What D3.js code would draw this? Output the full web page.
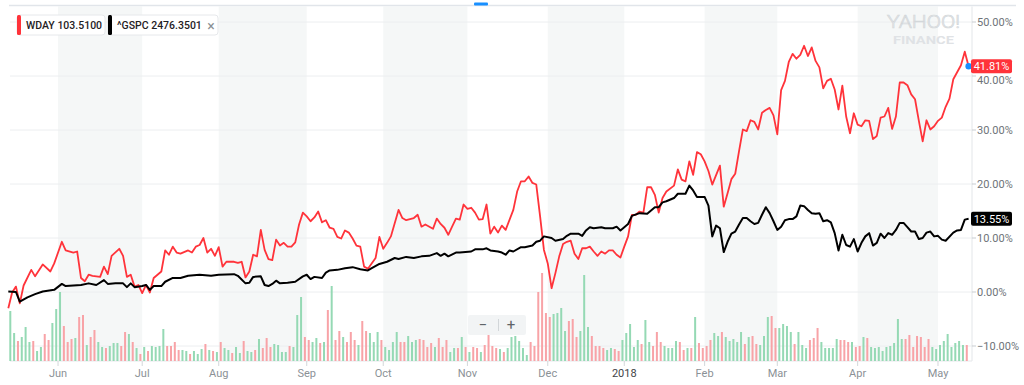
<!DOCTYPE html>
<html>
<head>
<meta charset="utf-8">
<script src="https://cdn.jsdelivr.net/npm/d3@7"></script>
<style>
  html, body { margin: 0; padding: 0; background: #fff; }
  svg { display: block; font-family: Roboto, "Helvetica Neue", Arial, sans-serif; }
</style>
</head>
<body>
<div id="chart"></div>
<script>
// x = trading day index (0 = mid May 2017), value = % change since start
const wday = [
  [0,-3.0],[1,-0.1],[2,1.0],[3,-2.1],[4,1.2],[6,4.1],[7,2.9],[9,5.1],[11,3.8],[12,5.3],
  [14,9.3],[15,7.7],[17,7.3],[18,7.5],[19,2.6],[20,2.0],[21,3.2],[22,3.0],[24,2.8],[25,4.7],
  [26,3.3],[27,6.7],[29,8.0],[30,6.7],[31,2.8],[32,3.2],[33,1.0],[34,1.3],[35,-0.2],[36,1.3],
  [37,-0.1],[38,2.6],[40,3.8],[41,7.7],[42,6.9],[43,8.4],[44,7.3],[45,7.1],[47,7.7],[48,7.3],
  [49,8.4],[50,8.7],[51,10.0],[52,7.3],[53,8.0],[54,6.7],[55,8.3],[56,4.7],[57,5.6],[59,5.6],
  [60,5.4],[61,5.6],[62,2.7],[63,3.8],[64,6.9],[65,6.6],[66,11.5],[67,7.8],[68,6.1],[69,5.9],
  [70,9.7],[71,8.6],[72,9.1],[73,8.4],[74,8.4],[75,9.2],[76,12.5],[77,14.7],[78,14.0],[79,13.1],
  [80,13.8],[81,14.9],[82,12.9],[83,13.3],[84,11.9],[85,11.7],[86,10.2],[87,9.9],[88,11.4],[89,11.0],
  [90,9.9],[91,8.6],[92,8.4],[93,4.7],[94,4.3],[96,6.3],[97,10.2],[98,8.0],[99,9.1],[100,10.3],
  [102,15.2],[103,13.7],[104,13.3],[106,13.7],[107,14.3],[108,12.1],[109,12.5],[111,11.7],[112,13.6],[113,12.6],
  [114,11.9],[115,10.6],[116,12.1],[117,13.6],[118,13.4],[119,16.2],[120,15.4],[121,15.6],[122,14.7],[123,13.4],
  [124,13.5],[125,16.2],[126,10.8],[127,12.1],[128,11.0],[129,12.3],[130,11.5],[132,15.2],[133,18.6],[134,20.5],
  [135,20.5],[136,21.4],[137,20.2],[138,19.9],[139,14.0],[140,7.8],[141,5.3],[142,0.7],[143,3.5],[144,6.6],
  [145,8.9],[146,9.3],[147,9.5],[148,7.1],[149,6.1],[150,8.1],[151,8.1],[152,8.4],[153,7.5],[154,6.7],
  [155,7.5],[156,7.1],[157,7.7],[158,7.7],[159,6.9],[160,6.4],[161,8.4],[162,10.3],[163,14.3],[164,14.3],
  [165,14.9],[166,14.7],[167,19.4],[168,19.4],[169,18.0],[170,14.7],[171,17.4],[172,18.6],[174,19.7],[175,22.7],
  [176,20.8],[177,20.5],[178,24.2],[179,21.7],[180,25.9],[181,25.5],[182,24.2],[183,22.4],[184,19.9],[186,23.4],
  [187,15.8],[188,18.3],[189,20.9],[190,21.9],[191,26.1],[192,30.1],[193,29.8],[194,31.8],[195,31.5],[196,30.1],
  [197,33.2],[198,33.7],[199,34.1],[200,32.7],[201,29.2],[202,37.4],[203,39.1],[204,42.6],[205,44.1],[206,43.2],
  [207,43.9],[208,45.6],[209,43.7],[210,45.3],[211,42.8],[212,41.6],[213,37.7],[214,39.1],[215,39.5],[216,37.5],
  [217,33.8],[218,38.2],[219,32.5],[220,29.4],[221,33.1],[222,31.0],[223,30.7],[224,31.8],[225,31.7],[226,28.3],
  [227,28.9],[228,32.3],[229,32.5],[230,34.1],[231,30.2],[232,32.5],[233,38.8],[234,38.8],[235,38.3],[236,36.6],
  [237,35.7],[238,31.7],[239,27.9],[240,31.8],[241,30.1],[242,30.7],[243,31.7],[244,32.3],[245,34.3],[246,35.8],
  [247,39.4],[249,42.0],[250,44.5],[251,41.81]
]

const gspc = [
  [0,0.1],[2,0.0],[3,-1.8],[5,-1.0],[7,-0.4],[9,0.1],[12,0.4],[14,1.5],[15,1.1],[19,1.3],
  [21,1.6],[23,1.3],[25,2.2],[26,1.5],[28,1.6],[30,1.6],[31,0.9],[32,1.6],[33,0.9],[35,1.1],
  [36,1.3],[37,0.4],[38,1.1],[40,1.1],[41,1.9],[43,2.6],[45,2.6],[47,3.0],[50,3.2],[53,3.0],
  [55,3.2],[59,3.3],[60,3.0],[62,1.6],[63,1.7],[64,2.8],[66,2.9],[67,1.3],[68,1.1],[69,1.5],
  [70,2.1],[71,1.6],[73,1.7],[75,1.9],[77,2.9],[78,3.2],[79,2.4],[80,2.8],[82,2.6],[83,3.6],
  [84,4.0],[86,4.1],[88,4.4],[90,4.6],[92,4.2],[94,4.0],[95,4.4],[97,5.2],[99,5.6],[101,6.3],
  [102,6.1],[104,6.5],[106,6.3],[108,6.6],[110,6.7],[112,7.2],[113,6.7],[114,7.1],[115,6.6],[117,7.3],
  [118,7.3],[121,7.5],[122,7.9],[124,7.9],[125,8.1],[126,7.7],[128,7.5],[129,7.3],[130,6.9],[131,7.7],
  [132,7.5],[134,8.3],[135,8.3],[137,8.6],[138,9.3],[139,9.5],[140,10.3],[142,10.0],[143,9.5],[145,9.8],
  [146,10.4],[147,10.8],[149,10.8],[150,10.4],[151,11.4],[152,12.0],[153,11.8],[155,12.0],[156,11.8],[158,11.8],
  [159,12.1],[160,11.4],[162,12.6],[163,14.1],[165,14.6],[167,14.5],[169,15.7],[170,15.7],[171,16.6],[172,16.8],
  [174,17.4],[175,18.2],[177,18.2],[178,19.7],[179,18.8],[180,17.6],[182,17.6],[183,16.0],[184,10.3],[185,12.3],
  [186,11.8],[187,7.4],[188,9.3],[189,10.8],[190,11.2],[191,12.5],[192,13.7],[193,13.7],[194,13.1],[195,12.6],
  [196,12.8],[197,14.3],[198,15.7],[199,14.6],[200,13.1],[201,11.5],[202,12.1],[203,13.3],[204,13.5],[205,13.5],
  [206,14.0],[207,16.0],[208,15.9],[209,15.2],[210,14.6],[211,14.5],[212,14.6],[213,13.1],[214,13.3],[215,12.9],
  [216,10.9],[217,7.7],[218,10.6],[219,8.7],[220,8.4],[221,9.8],[222,7.5],[223,9.1],[224,10.3],[225,10.9],
  [226,8.6],[227,9.1],[228,10.8],[229,10.0],[230,10.9],[231,10.6],[232,11.5],[233,12.8],[234,12.8],[235,12.0],
  [236,11.2],[237,11.2],[238,9.8],[239,10.0],[240,11.0],[241,11.2],[242,10.3],[243,10.4],[244,9.7],[245,9.5],
  [247,11.0],[248,11.4],[249,11.5],[250,13.4],[251,13.55]
]

// WDAY daily volume (millions), one per trading day from index 0
const volume = [
  5.0,2.8,2.0,2.4,3.4,1.9,2.0,1.0,1.4,2.7, 2.1,3.8,5.2,6.9,3.5,1.9,2.2,2.3,4.4,4.6,
  1.6,2.4,3.1,1.9,1.4,1.3,1.5,1.8,1.8,1.5, 2.9,2.7,1.9,1.3,0.7,1.4,1.0,1.5,1.4,1.5,
  3.2,1.5,1.5,1.9,1.1,1.1,1.0,0.7,1.0,0.7, 1.2,1.7,1.1,1.0,0.9,1.9,1.3,1.1,0.8,1.4,
  0.8,2.0,1.0,0.9,1.1,2.2,1.3,2.3,1.4,1.7, 1.6,0.9,0.9,1.5,1.4,4.6,6.4,2.4,2.1,1.9,
  2.3,1.8,1.9,5.1,7.5,2.1,3.0,2.4,1.9,2.9, 2.1,1.6,4.0,3.0,2.8,1.9,2.9,2.1,1.4,1.1,
  1.9,2.9,1.9,1.9,2.5,1.9,2.1,2.2,2.1,1.4, 1.8,1.4,2.3,1.4,2.1,0.9,1.3,1.3,2.4,1.4,
  0.9,1.4,1.3,0.9,1.6,2.6,1.5,1.3,1.2,0.9, 1.3,2.4,2.5,2.0,1.3,0.6,1.9,1.5,6.9,8.8,
  4.8,4.4,4.7,4.8,5.3,3.0,4.0,4.2,2.4,3.0, 8.6,3.4,2.5,1.5,1.5,1.3,1.1,1.3,1.2,1.0,
  2.1,2.8,3.7,1.4,2.1,1.7,4.1,1.9,1.5,2.9, 1.9,1.5,1.3,1.3,2.0,1.9,1.1,1.3,1.3,4.4,
  1.8,1.3,1.5,2.1,2.8,2.5,2.9,2.4,2.0,2.2, 1.9,2.9,1.7,2.4,2.5,1.7,1.6,2.5,4.4,4.5,
  3.3,3.3,3.7,3.5,2.9,1.7,2.9,1.6,1.3,2.1, 2.3,3.3,1.9,1.3,1.3,1.3,2.2,2.1,2.1,1.9,
  1.9,1.4,1.5,2.4,2.3,1.4,1.3,1.4,1.0,1.4, 1.5,1.8,4.2,2.2,2.2,2.6,1.4,2.5,2.4,1.4,
  2.2,1.4,1.2,1.6,2.0,2.7,1.4,1.8,2.0,1.6, 1.6
]
// 1 = up day (green), 0 = down day (red)
const volume_up = [
  1,1,0,1,1,1,0,1,1,0, 0,1,1,1,0,0,0,1,0,0, 1,0,0,1,1,0,1,1,1,0, 0,1,0,1,0,1,0,1,1,1,
  1,0,0,0,0,1,1,0,1,1, 1,0,1,0,1,0,1,1,0,1, 1,0,1,1,0,1,0,0,0,1, 1,1,1,0,1,1,1,0,0,1,
  1,0,1,0,1,0,0,1,0,0, 0,1,0,0,1,1,1,0,1,1, 1,1,0,0,1,1,1,0,0,0, 0,1,0,0,0,1,1,0,1,0,
  1,0,0,1,0,0,0,0,1,0, 1,1,1,1,1,1,0,0,0,0, 0,0,1,1,1,1,0,0,0,1, 1,1,0,0,0,0,1,1,0,0,
  1,1,1,1,1,0,1,1,0,0, 0,1,1,1,1,0,0,1,0,1, 0,0,0,0,1,1,0,1,1,1, 1,1,0,1,0,0,1,1,1,0,
  0,1,1,1,1,0,1,1,1,0, 0,0,1,1,1,1,1,0,0,0, 1,0,0,1,0,1,1,1,1,1, 1,1,1,1,0,0,0,0,0,0,
  0,1,1,1,1,1,1,1,1,1, 0
]

const month_labels = ["Jun","Jul","Aug","Sep","Oct","Nov","Dec","2018","Feb","Mar","Apr","May"]
const month_days = [13, 35, 55, 78, 98, 120, 141, 161, 182, 201, 222, 243]
const pct_ticks = [50, 40, 30, 20, 10, 0, -10]
const legend_items = [
  {symbol: "WDAY", price: "103.5100", color: "#ff333a", width: 88, close: false},
  {symbol: "^GSPC", price: "2476.3501", color: "#000000", width: 110, close: true}
]
const last_values = [
  {value: 41.81, fill: "#ff333a"},
  {value: 13.55, fill: "#000000"}
]

const width = 1024
const height = 385
const plot_left = 10
const plot_right = 972
const plot_top = 6.5
const plot_bottom = 361

const x = d3.scaleLinear().domain([0, 251]).range([8.3, 968.6])
const y = d3.scaleLinear().domain([-10, 50]).range([346, 22])
const yVol = d3.scaleLinear().domain([0, 10]).range([plot_bottom, plot_bottom - 100])

const svg = d3.select("#chart").append("svg")
    .attr("width", width)
    .attr("height", height)

// alternating month shading (Jun, Aug, Oct, Dec, Feb, Apr)
const bands = d3.range(0, month_days.length - 1, 2).map(i => [month_days[i], month_days[i + 1]])
svg.append("g").selectAll("rect")
    .data(bands)
    .join("rect")
    .attr("x", d => x(d[0]))
    .attr("y", plot_top)
    .attr("width", d => x(d[1]) - x(d[0]))
    .attr("height", plot_bottom - plot_top)
    .attr("fill", "#f5f7f7")

svg.append("line")
    .attr("x1", 9).attr("x2", 1016)
    .attr("y1", 5.5).attr("y2", 5.5)
    .attr("stroke", "#e1e5ea")
    .attr("stroke-width", 1.5)

svg.append("rect")
    .attr("x", 474).attr("y", 2.5)
    .attr("width", 14).attr("height", 3)
    .attr("rx", 1)
    .attr("fill", "#188fff")

// gridlines
svg.append("g").selectAll("line")
    .data(pct_ticks)
    .join("line")
    .attr("x1", plot_left).attr("x2", plot_right)
    .attr("y1", d => y(d)).attr("y2", d => y(d))
    .attr("stroke", "#eceef0")
    .attr("stroke-width", 1)

svg.append("line")
    .attr("x1", plot_right).attr("x2", plot_right)
    .attr("y1", plot_top).attr("y2", plot_bottom)
    .attr("stroke", "#e3e6e9")

svg.append("line")
    .attr("x1", plot_left).attr("x2", plot_right)
    .attr("y1", plot_bottom).attr("y2", plot_bottom)
    .attr("stroke", "#e6e8eb")

// watermark
const logo = svg.append("g")
logo.append("text")
    .attr("x", 887).attr("y", 28)
    .attr("font-size", 19)
    .attr("font-weight", 300)
    .attr("textLength", 73)
    .attr("lengthAdjust", "spacingAndGlyphs")
    .attr("fill", "#f1f2f3")
    .attr("stroke", "#d3d7da")
    .attr("stroke-width", 0.7)
    .text("YAHOO!")
logo.append("text")
    .attr("x", 893).attr("y", 43.5)
    .attr("font-size", 11.5)
    .attr("font-weight", 700)
    .attr("textLength", 61)
    .attr("lengthAdjust", "spacingAndGlyphs")
    .attr("fill", "#dfe2e5")
    .text("FINANCE")

// volume bars
svg.append("g").selectAll("rect")
    .data(volume)
    .join("rect")
    .attr("x", (d, i) => x(i) + 1)
    .attr("y", d => yVol(d))
    .attr("width", 2)
    .attr("height", d => plot_bottom - yVol(d))
    .attr("fill", (d, i) => volume_up[i] ? "#95d9b4" : "#f8a3a7")

// zoom buttons
const zoomCtl = svg.append("g")
zoomCtl.append("rect")
    .attr("x", 468).attr("y", 315)
    .attr("width", 58).attr("height", 20)
    .attr("rx", 2)
    .attr("fill", "rgba(240,242,243,0.85)")
zoomCtl.append("line")
    .attr("x1", 498.5).attr("x2", 498.5)
    .attr("y1", 319).attr("y2", 331)
    .attr("stroke", "#d2d6d9")
zoomCtl.append("text")
    .attr("x", 483).attr("y", 325)
    .attr("text-anchor", "middle").attr("dominant-baseline", "central")
    .attr("font-size", 15).attr("fill", "#5f6468")
    .text("\u2212")
zoomCtl.append("text")
    .attr("x", 511).attr("y", 325)
    .attr("text-anchor", "middle").attr("dominant-baseline", "central")
    .attr("font-size", 15).attr("fill", "#5f6468")
    .text("+")

// lines
const line = d3.line()
    .x(d => x(d[0]))
    .y(d => y(d[1]))

svg.append("path")
    .datum(wday)
    .attr("d", line)
    .attr("fill", "none")
    .attr("stroke", "#ff333a")
    .attr("stroke-width", 1.8)
    .attr("stroke-linejoin", "round")

svg.append("path")
    .datum(gspc)
    .attr("d", line)
    .attr("fill", "none")
    .attr("stroke", "#000")
    .attr("stroke-width", 2)
    .attr("stroke-linejoin", "round")

svg.append("circle")
    .attr("cx", x(251)).attr("cy", y(last_values[0].value))
    .attr("r", 3.2)
    .attr("fill", "#188fff")

// right axis
const yAxis = svg.append("g")
yAxis.selectAll("line")
    .data(pct_ticks)
    .join("line")
    .attr("x1", plot_right).attr("x2", plot_right + 4)
    .attr("y1", d => y(d)).attr("y2", d => y(d))
    .attr("stroke", "#c9cdd1")
yAxis.selectAll("text")
    .data(pct_ticks)
    .join("text")
    .attr("x", plot_right + 5)
    .attr("y", d => y(d) + (d === 40 ? 4 : 0))
    .attr("dominant-baseline", "central")
    .attr("font-size", 11)
    .attr("fill", "#6e7378")
    .text(d => d3.format(".2f")(d) + "%")

const tags = svg.append("g").selectAll("g")
    .data(last_values)
    .join("g")
    .attr("transform", d => `translate(${plot_right - 1},${y(d.value)})`)
tags.append("rect")
    .attr("x", 0).attr("y", -7)
    .attr("width", 41).attr("height", 14)
    .attr("rx", 2)
    .attr("fill", d => d.fill)
tags.append("text")
    .attr("x", 20.5).attr("y", 0.5)
    .attr("text-anchor", "middle")
    .attr("dominant-baseline", "central")
    .attr("font-size", 11)
    .attr("fill", "#fff")
    .text(d => d.value.toFixed(2) + "%")

// bottom axis
const xAxis = svg.append("g")
xAxis.selectAll("line")
    .data(month_days)
    .join("line")
    .attr("x1", d => x(d)).attr("x2", d => x(d))
    .attr("y1", plot_bottom).attr("y2", plot_bottom + 5)
    .attr("stroke", "#d3d7da")
xAxis.selectAll("text")
    .data(month_labels)
    .join("text")
    .attr("x", (d, i) => x(month_days[i]))
    .attr("y", 373.5)
    .attr("text-anchor", "middle")
    .attr("dominant-baseline", "central")
    .attr("font-size", 11)
    .attr("fill", d => d === "2018" ? "#3f4347" : "#8b9196")
    .text(d => d)

// legend pills
let lx = 17
legend_items.forEach(item => {
    const g = svg.append("g").attr("transform", `translate(${lx},15)`)
    g.append("rect")
        .attr("width", item.width).attr("height", 20)
        .attr("rx", 3)
        .attr("fill", "#fff")
        .attr("stroke", "#e6e8eb")
    g.append("rect")
        .attr("width", 4).attr("height", 20)
        .attr("rx", 1.5)
        .attr("fill", item.color)
    g.append("text")
        .attr("x", 9).attr("y", 10.5)
        .attr("dominant-baseline", "central")
        .attr("font-size", 10.5)
        .attr("font-weight", 500)
        .attr("fill", "#1f2124")
        .text(`${item.symbol} ${item.price}`)
    if (item.close) {
        g.append("text")
            .attr("x", item.width - 7).attr("y", 10.5)
            .attr("text-anchor", "middle")
            .attr("dominant-baseline", "central")
            .attr("font-size", 14)
            .attr("fill", "#8a8f94")
            .text("\u00d7")
    }
    lx += item.width + 3
})
</script>
</body>
</html>
